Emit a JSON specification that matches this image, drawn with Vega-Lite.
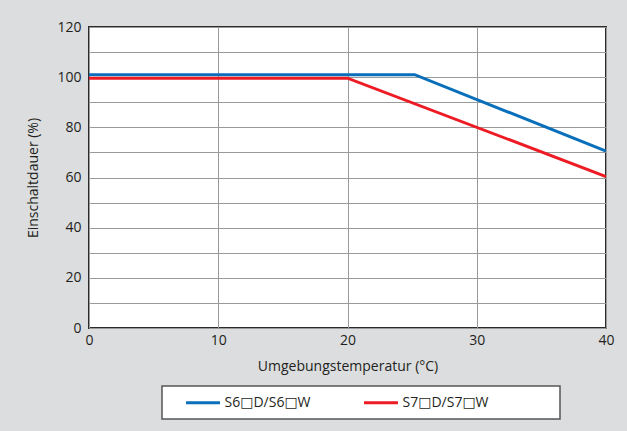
{
  "$schema": "https://vega.github.io/schema/vega-lite/v6.json",
  "width": 517,
  "height": 301,
  "autosize": "none",
  "padding": {"left": 89, "top": 27, "right": 21, "bottom": 103},
  "background": "#dcdddf",
  "config": {
    "font": "Open Sans",
    "view": {"stroke": "#2b2b2b", "strokeWidth": 2, "fill": "white"},
    "axis": {"labelFont": "Open Sans", "titleFont": "Open Sans", "labelColor": "#231f20", "titleColor": "#231f20", "titleFontWeight": "normal", "domain": false, "ticks": false, "gridColor": "#9a9a9a", "gridWidth": 1, "gridOpacity": 1}
  },
  "data": {
    "values": [
      {"serie": "S6□D/S6□W", "t": 0, "ed": 101},
      {"serie": "S6□D/S6□W", "t": 25.2, "ed": 101},
      {"serie": "S6□D/S6□W", "t": 40, "ed": 70.5},
      {"serie": "S7□D/S7□W", "t": 0, "ed": 99.6},
      {"serie": "S7□D/S7□W", "t": 20, "ed": 99.6},
      {"serie": "S7□D/S7□W", "t": 40, "ed": 60.4}
    ]
  },
  "mark": {"type": "line", "strokeWidth": 3, "clip": true},
  "encoding": {
    "x": {
      "field": "t", "type": "quantitative",
      "scale": {"domain": [0, 40], "nice": false, "zero": false},
      "axis": {"values": [0, 10, 20, 30, 40], "title": "Umgebungstemperatur (°C)", "labelFontSize": 14, "titleFontSize": 14, "labelPadding": 5, "titlePadding": 12, "labelFlush": false}
    },
    "y": {
      "field": "ed", "type": "quantitative",
      "scale": {"domain": [0, 120], "nice": false},
      "axis": {"values": [0, 10, 20, 30, 40, 50, 60, 70, 80, 90, 100, 110, 120], "labelExpr": "datum.value % 20 == 0 ? datum.label : ''", "title": "Einschaltdauer (%)", "labelFontSize": 14, "titleFontSize": 14, "labelPadding": 8, "titlePadding": 16}
    },
    "color": {
      "field": "serie", "type": "nominal",
      "scale": {"domain": ["S6□D/S6□W", "S7□D/S7□W"], "range": ["#0a6fba", "#ed1c24"]},
      "legend": {
        "title": null, "orient": "none", "legendX": 73, "legendY": 359,
        "direction": "horizontal", "fillColor": "white", "strokeColor": "#555555",
        "padding": 9, "symbolType": "M-2.83,0H2.83", "symbolSize": 144, "symbolStrokeWidth": 3,
        "symbolOffset": 24.5,
        "labelFontSize": 14, "labelFont": "'Open Sans', 'DejaVu Sans'", "labelColor": "#231f20", "labelOffset": 14, "columnPadding": 38,
        "labelExpr": "datum.value == 'S7□D/S7□W' ? datum.label + '\u2800\u2800\u2800\u2800\u2800\u2800' : datum.label",
        "encode": {"legend": {"update": {"strokeWidth": {"value": 1.5}}}}
      }
    }
  }
}
